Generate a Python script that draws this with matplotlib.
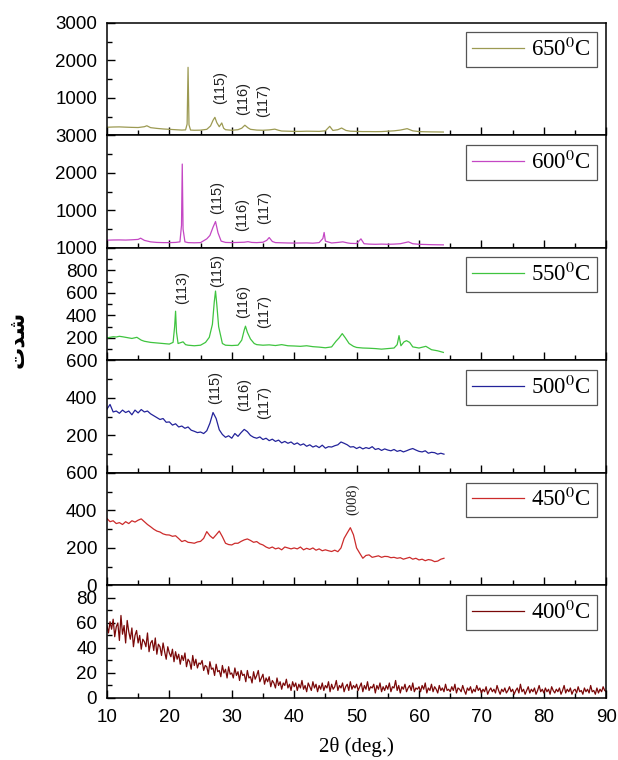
import numpy as np
import matplotlib
matplotlib.use("Agg")
import matplotlib.pyplot as plt
from matplotlib.ticker import MultipleLocator, FuncFormatter

# temperatures, top panel first
temps = ["650", "600", "550", "500", "450", "400"]
colors = ["#9c9a52", "#c447c4", "#3fc43f", "#23239a", "#cc2b2b", "#7a0808"]

# 650 C
x650 = [10, 11, 12, 13, 14, 15, 16, 16.4, 17, 18,
        19, 20, 21, 22, 22.6, 22.85, 23.0, 23.15, 23.4, 24,
        25, 26, 26.6, 27.0, 27.3, 27.6, 28.0, 28.4, 28.7, 29,
        30, 31, 31.6, 32.1, 32.6, 33, 34, 35, 36, 36.9,
        37.5, 38, 39, 40, 41, 42, 43, 44, 45, 45.7,
        46.2, 47, 47.6, 48.3, 49, 50, 51, 52, 53, 54,
        55, 56, 57, 58.1, 59, 60, 61, 62, 63, 63.9]
y650 = [215, 222, 225, 218, 212, 208, 230, 255, 205, 185,
        170, 160, 150, 140, 145, 300, 1813, 280, 140, 135,
        138, 160, 250, 400, 480, 340, 230, 330, 190, 150,
        135, 150, 190, 270, 200, 160, 140, 135, 145, 165,
        135, 115, 110, 105, 105, 110, 108, 105, 120, 240,
        130, 150, 195, 130, 110, 105, 100, 100, 98, 100,
        110, 120, 140, 178, 120, 100, 95, 92, 90, 88]

# 600 C
x600 = [10, 11, 12, 13, 14, 15, 15.4, 16, 17, 18,
        19, 20, 21, 21.7, 21.95, 22.07, 22.2, 22.5, 23, 24,
        25, 26.0, 26.5, 27.0, 27.4, 27.8, 28.3, 29, 30, 31,
        32, 32.6, 33.2, 34, 35, 35.6, 36.0, 36.5, 37, 38,
        39, 40, 41, 42, 43, 44, 44.6, 44.8, 45.0, 46,
        47, 47.8, 48.6, 49, 50, 50.7, 51.2, 52, 53, 54,
        55, 56, 57, 58.3, 59, 60, 61, 62, 63, 63.9]
y600 = [205, 210, 212, 208, 215, 225, 258, 200, 160, 145,
        140, 140, 145, 160, 600, 2234, 500, 160, 140, 135,
        140, 240, 330, 550, 702, 400, 180, 145, 140, 145,
        150, 165, 145, 140, 150, 200, 275, 170, 140, 135,
        130, 128, 130, 132, 125, 140, 250, 410, 180, 130,
        145, 160, 130, 120, 115, 240, 110, 100, 95, 100,
        95, 100, 110, 160, 110, 95, 90, 85, 82, 80]

# 550 C
x550 = [10, 10.5, 11, 11.5, 12, 12.5, 13, 13.5, 14, 14.8,
        15.5, 16, 17, 18, 19, 20, 20.6, 20.85, 21.0, 21.15,
        21.4, 22.2, 22.6, 23, 24, 25, 25.8, 26.4, 26.9, 27.2,
        27.4, 27.6, 27.9, 28.5, 29, 30, 31, 31.6, 32.0, 32.2,
        32.5, 33, 33.6, 34, 35, 36, 37, 38, 39, 40,
        41, 42, 43, 44, 45, 46, 46.7, 47.2, 47.7, 48.2,
        48.8, 49.5, 50, 51, 52, 53, 54, 55, 56, 56.5,
        56.8, 57.1, 57.6, 58.0, 58.5, 59, 60, 61.1, 62, 63,
        63.9]
y550 = [200, 205, 210, 208, 214, 210, 205, 200, 195, 205,
        180, 170, 160, 155, 150, 145, 160, 300, 437, 250,
        150, 165, 140, 135, 130, 135, 160, 205, 320, 520,
        616, 500, 300, 150, 135, 132, 135, 180, 270, 304,
        250, 190, 150, 140, 135, 138, 132, 140, 130, 128,
        125, 130, 122, 118, 112, 120, 170, 200, 238, 200,
        150, 125, 115, 110, 108, 105, 100, 105, 110, 140,
        220, 130, 165, 175, 160, 120, 110, 125, 95, 85,
        71]

# 500 C and 450 C, read every 0.5 deg from 10 to 64
x_half = np.arange(10, 64.01, 0.5)
y500 = [340, 365, 325, 330, 318, 335, 322, 330, 310, 335,
        320, 338, 325, 330, 315, 305, 295, 285, 290, 270,
        272, 255, 262, 245, 250, 238, 245, 228, 222, 215,
        218, 210, 225, 265, 322, 290, 230, 205, 190, 198,
        185, 210, 195, 215, 232, 220, 200, 190, 185, 192,
        178, 185, 172, 180, 168, 175, 160, 168, 158, 165,
        152, 160, 148, 155, 142, 150, 138, 145, 135, 148,
        132, 140, 138, 145, 150, 165, 158, 150, 138, 140,
        130, 138, 128, 135, 130, 140, 125, 130, 120, 128,
        122, 118, 125, 115, 120, 112, 118, 125, 130, 122,
        115, 112, 118, 105, 110, 108, 100, 105, 100]
y450 = [357, 340, 345, 330, 335, 325, 340, 330, 345, 338,
        348, 355, 340, 325, 313, 300, 290, 285, 275, 270,
        269, 262, 265, 250, 234, 240, 230, 228, 225, 232,
        235, 251, 287, 265, 251, 270, 290, 260, 225, 218,
        216, 225, 225, 235, 243, 248, 240, 230, 234, 222,
        216, 205, 198, 205, 195, 200, 190, 205, 200, 195,
        200, 195, 205, 190, 198, 192, 200, 188, 195, 185,
        190, 185, 181, 188, 180, 200, 251, 280, 308, 270,
        200, 172, 145, 160, 163, 150, 154, 158, 150, 155,
        154, 148, 150, 145, 148, 140, 145, 150, 140, 145,
        136, 140, 132, 138, 135, 127, 130, 140, 145]

# 400 C, read every 0.25 deg from 10 to 90
x_quarter = np.arange(10, 90.001, 0.25)
y400 = [58, 52, 61, 55, 63, 49, 57, 60, 46, 66, 51, 58, 44, 62, 53, 47, 56, 41, 50, 54,
        44, 50, 39, 47, 45, 41, 52, 37, 44, 46, 38, 48, 35, 43, 41, 34, 44, 37, 31, 41,
        36, 33, 39, 29, 37, 31, 35, 27, 34, 30, 36, 25, 31, 29, 23, 34, 26, 31, 24, 28,
        27, 30, 22, 26, 25, 19, 29, 23, 24, 18, 27, 21, 22, 17, 26, 20, 23, 16, 25, 19,
        20, 16, 24, 18, 21, 14, 22, 18, 19, 13, 22, 16, 17, 12, 21, 15, 18, 22, 13, 16,
        19, 11, 16, 13, 17, 9, 14, 12, 8, 16, 10, 13, 7, 12, 10, 15, 8, 11, 6, 13,
        9, 12, 6, 11, 8, 14, 7, 10, 5, 12, 9, 6, 13, 8, 11, 5, 10, 7, 12, 6,
        10, 8, 13, 5, 11, 7, 9, 14, 6, 10, 8, 12, 5, 9, 11, 6, 13, 7, 10, 8,
        11, 6, 9, 12, 5, 10, 7, 13, 6, 9, 8, 11, 4, 10, 7, 12, 5, 9, 6, 10,
        7, 12, 5, 9, 8, 14, 6, 10, 4, 9, 7, 11, 5, 8, 10, 6, 12, 5, 8, 7,
        9, 5, 10, 7, 12, 4, 8, 6, 11, 5, 9, 7, 4, 10, 6, 8, 5, 11, 6, 7,
        5, 9, 6, 11, 4, 8, 7, 5, 10, 6, 3, 8, 6, 9, 4, 7, 5, 10, 6, 8,
        4, 7, 5, 9, 3, 6, 8, 5, 7, 4, 10, 6, 3, 7, 5, 8, 4, 6, 9, 5,
        7, 3, 6, 8, 4, 11, 5, 7, 3, 6, 9, 4, 7, 5, 8, 3, 6, 10, 5, 7,
        4, 8, 5, 7, 3, 9, 6, 4, 7, 5, 8, 3, 6, 10, 4, 7, 5, 8, 3, 6,
        7, 4, 9, 5, 6, 3, 8, 5, 7, 4, 10, 5, 6, 3, 8, 4, 7, 5, 9, 6,
        5]

xs = [x650, x600, x550, x_half, x_half, x_quarter]
ys = [y650, y600, y550, y500, y450, y400]

# y axis setup per panel: top limit, major step, minor step
y_tops = [3000, 3000, 1000, 600, 600, 90]
y_major = [1000, 1000, 200, 200, 200, 20]
y_minor = [500, 500, 100, 100, 100, 10]

# peak labels: panel, text, 2theta, height
peak_panel = [0, 0, 0, 1, 1, 1, 2, 2, 2, 2, 3, 3, 3, 4]
peak_text = ["(115)", "(116)", "(117)", "(115)", "(116)", "(117)",
             "(113)", "(115)", "(116)", "(117)", "(115)", "(116)", "(117)", "(008)"]
peak_x = [28.1, 31.9, 35.1, 27.7, 31.6, 35.2, 22.0, 27.6, 31.9, 35.2, 27.4, 32.0, 35.2, 49.4]
peak_y = [1280, 990, 935, 1340, 900, 1075, 646, 795, 527, 437, 455, 420, 375, 457]

plt.rcParams['mathtext.fontset'] = 'stix'
plt.rcParams['font.family'] = 'Liberation Sans'


def y_label_fmt(hide_zero):
    # the panel below draws its top label on the shared border
    def fmt(v, pos):
        if hide_zero and abs(v) < 1e-9:
            return ""
        return "%d" % v
    return FuncFormatter(fmt)


fig, axes = plt.subplots(6, 1, figsize=(6.18, 7.60), dpi=100, sharex=True)
fig.subplots_adjust(left=0.173, right=0.981, top=0.970, bottom=0.0816, hspace=0)

for i, ax in enumerate(axes):
    ax.plot(xs[i], ys[i], color=colors[i], lw=0.9, label=temps[i] + r"$^{0}$C")
    ax.set_xlim(10, 90)
    ax.set_ylim(0, y_tops[i])
    ax.yaxis.set_major_locator(MultipleLocator(y_major[i]))
    ax.yaxis.set_minor_locator(MultipleLocator(y_minor[i]))
    ax.yaxis.set_major_formatter(y_label_fmt(i < 4))
    ax.xaxis.set_major_locator(MultipleLocator(10))
    ax.xaxis.set_minor_locator(MultipleLocator(5))
    ax.tick_params(which='both', direction='in', top=False, right=False, labelsize=13.5, width=1.0)
    ax.tick_params(which='major', length=6)
    ax.tick_params(which='minor', length=3.5)
    ax.tick_params(axis='y', pad=7)
    ax.tick_params(axis='x', pad=8)
    for s in ax.spines.values():
        s.set_linewidth(1.1)
    leg = ax.legend(loc='upper right', prop={'family': 'Liberation Serif', 'size': 16.5},
                    fancybox=False, edgecolor='#555555', framealpha=1,
                    handlelength=2.3, handletextpad=0.3, borderpad=0.25,
                    borderaxespad=0.42)
    leg.get_frame().set_linewidth(0.9)

for p, t, px, py in zip(peak_panel, peak_text, peak_x, peak_y):
    fam = 'Liberation Serif' if t == "(008)" else 'Liberation Sans'
    axes[p].text(px, py, t, rotation=90, ha='center', va='center', fontsize=10.5,
                 family=fam, color='#222222')

axes[-1].set_xlabel("2θ (deg.)", family='Liberation Serif', fontsize=15, labelpad=8)

# Persian label "شدت", written in visual order with shaped forms
fig.text(0.028, 0.554, "\uFE95\uFEAA\uFEB7", rotation=90, ha='center', va='center',
         family='DejaVu Sans', fontsize=16, fontweight='bold')

fig.savefig("out.png", dpi=100)
